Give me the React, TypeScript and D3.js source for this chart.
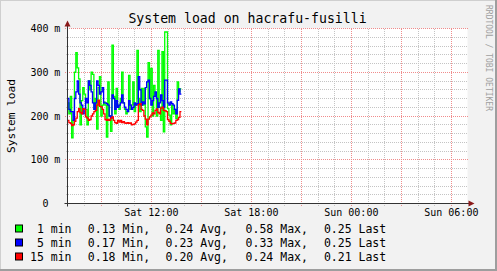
import React from "react";
import * as d3 from "d3";

// ---- data (values in milli-load, 5 minute steps starting Sat 07:00) ----
const seriesNames = ["1 min", "5 min", "15 min"];
const seriesColors = ["#00FF00", "#0000FF", "#FF0000"];

const load1 = [
  230, 205, 245, 150, 190, 300, 345, 310, 285, 180, 235, 265, 250, 215, 180, 280, 260, 300, 295, 215,
  240, 170, 265, 290, 200, 225, 232, 225, 152, 278, 200, 165, 362, 245, 205, 263, 225, 215, 240, 300,
  230, 215, 205, 210, 293, 215, 225, 278, 210, 225, 350, 240, 210, 263, 225, 263, 175, 152, 322, 240,
  309, 200, 270, 245, 200, 350, 220, 190, 347, 164, 392, 392, 217, 202, 180, 225, 205, 215, 194, 278,
  255, 262,
];
const load5 = [
  240, 215, 210, 210, 190, 240, 255, 280, 250, 230, 225, 205, 215, 240, 230, 280, 270, 255, 230, 215,
  230, 280, 270, 250, 255, 265, 230, 230, 228, 225, 200, 195, 248, 240, 215, 235, 220, 225, 230, 248,
  230, 220, 215, 210, 235, 225, 215, 220, 230, 225, 228, 290, 260, 225, 232, 228, 265, 278, 282, 240,
  225, 235, 245, 255, 240, 220, 230, 248, 235, 220, 282, 282, 230, 225, 232, 228, 225, 215, 205, 236,
  262, 250,
];
const load15 = [
  190, 185, 183, 178, 180, 188, 195, 210, 217, 208, 205, 217, 215, 198, 195, 190, 192, 200, 205, 210,
  213, 225, 236, 222, 221, 215, 205, 192, 190, 192, 190, 195, 198, 190, 185, 183, 190, 186, 190, 185,
  187, 184, 183, 185, 183, 184, 180, 181, 182, 186, 190, 226, 228, 215, 213, 200, 193, 180, 193, 198,
  202, 207, 205, 213, 216, 208, 205, 218, 220, 213, 212, 210, 192, 188, 183, 182, 183, 184, 190, 192,
  197, 210,
];

const statMin = ["0.13", "0.17", "0.18"];
const statAvg = ["0.24", "0.23", "0.20"];
const statMax = ["0.58", "0.33", "0.24"];
const statLast = ["0.25", "0.25", "0.21"];

const yMajorTicks = [0, 100, 200, 300, 400];
const yUnit = "m";

const titleText = "System load on hacrafu-fusilli";
const yAxisTitle = "System load";
const watermark = "RRDTOOL / TOBI OETIKER";

// ---- layout ----
const W = 497;
const H = 271;
const PL = 67.5;
const PR = 467.5;
const PT = 28.5;
const PB = 203.5;
const FONT = "'DejaVu Sans Mono', monospace";

const start = new Date(Date.UTC(2024, 0, 6, 7, 0));
const end = new Date(Date.UTC(2024, 0, 7, 7, 0));
const STEP_MS = 5 * 60 * 1000;

export default function App() {
  const x = d3.scaleTime().domain([start, end]).range([PL, PR]);
  const y = d3.scaleLinear().domain([0, 400]).range([PB, PT]);

  const minorX = d3.utcHour.every(1)!.range(start, end).filter((d) => +d > +start);
  const majorX = d3.utcHour.every(3)!.range(start, end).filter((d) => +d > +start);
  const labelX = d3.utcHour.every(6)!.range(start, end);
  const fmt = d3.utcFormat("%a %H:%M");
  const minorY = d3.range(20, 401, 20).filter((v) => v % 100 !== 0);

  const all = [load1, load5, load15];
  const line = d3
    .line<[Date, number]>()
    .x((d) => x(d[0]))
    .y((d) => y(d[1]))
    .curve(d3.curveStepAfter);
  const toPts = (arr: number[]): [Date, number][] => {
    const pts: [Date, number][] = arr.map((v, i) => [new Date(+start + i * STEP_MS), v]);
    pts.push([new Date(+start + arr.length * STEP_MS), arr[arr.length - 1]]);
    return pts;
  };

  return (
    <svg
      width={W}
      height={H}
      style={{ position: "absolute", left: 0, top: 0 }}
      fontFamily={FONT}
    >
      <rect x={0} y={0} width={W} height={H} fill="#F2F2F2" />
      {/* 3D frame */}
      <line x1={0} y1={0.5} x2={W} y2={0.5} stroke="#CFCFCF" strokeWidth={1} />
      <line x1={0.5} y1={0} x2={0.5} y2={H} stroke="#CFCFCF" strokeWidth={1} />
      <line x1={0} y1={H - 1} x2={W} y2={H - 1} stroke="#9E9E9E" strokeWidth={2} />
      <line x1={W - 1} y1={0} x2={W - 1} y2={H} stroke="#9E9E9E" strokeWidth={2} />

      {/* plot area */}
      <rect x={PL} y={PT} width={PR - PL} height={PB - PT} fill="#FFFFFF" />

      {/* minor grid */}
      <g stroke="#C4C4C4" strokeWidth={1} strokeDasharray="1,1" shapeRendering="crispEdges">
        {minorX.map((d, i) => (
          <line key={"mx" + i} x1={Math.round(x(d)) + 0.5} x2={Math.round(x(d)) + 0.5} y1={PT} y2={PB + 2} />
        ))}
        {minorY.map((v) => (
          <line key={"my" + v} x1={PL - 2} x2={PR} y1={Math.round(y(v) - 0.5) + 0.5} y2={Math.round(y(v) - 0.5) + 0.5} />
        ))}
      </g>
      {/* major grid */}
      <g stroke="#F08C8C" strokeWidth={1} strokeDasharray="1,1" shapeRendering="crispEdges">
        {majorX.map((d, i) => (
          <line key={"Mx" + i} x1={Math.round(x(d)) + 0.5} x2={Math.round(x(d)) + 0.5} y1={PT} y2={PB + 3} />
        ))}
        {yMajorTicks
          .filter((v) => v > 0)
          .map((v) => (
            <line key={"My" + v} x1={PL - 3} x2={PR} y1={Math.round(y(v) - 0.5) + 0.5} y2={Math.round(y(v) - 0.5) + 0.5} />
          ))}
      </g>

      {/* data lines */}
      {all.map((arr, k) => (
        <path
          key={"s" + k}
          d={line(toPts(arr)) || ""}
          fill="none"
          stroke={seriesColors[k]}
          strokeWidth={1.3}
        />
      ))}

      {/* axes */}
      <line x1={PL - 3} x2={PR + 3} y1={PB} y2={PB} stroke="#333333" strokeWidth={1} />
      <line x1={PL} x2={PL} y1={PB + 3} y2={PT - 3} stroke="#333333" strokeWidth={1} />
      <path d={`M${PR + 1},${PB - 3} L${PR + 7},${PB} L${PR + 1},${PB + 3} Z`} fill="#8B1A1A" />
      <path d={`M${PL - 3},${PT - 2} L${PL},${PT - 8} L${PL + 3},${PT - 2} Z`} fill="#8B1A1A" />

      {/* y tick labels */}
      <g fontSize={10} fill="#000">
        {yMajorTicks.map((v) => (
          <g key={"yl" + v}>
            <text x={48.5} y={y(v) + 3.5} textAnchor="end">
              {v}
            </text>
            {v !== 0 && (
              <text x={54.3} y={y(v) + 3.5}>
                {yUnit}
              </text>
            )}
          </g>
        ))}
      </g>

      {/* x tick labels */}
      <g fontSize={10} fill="#000">
        {labelX.map((d, i) => (
          <text key={"xl" + i} x={x(d) + 0.5} y={216} textAnchor="middle">
            {fmt(d)}
          </text>
        ))}
      </g>

      {/* title */}
      <text x={247.5} y={23} fontSize={13.2} textAnchor="middle" fill="#000">
        {titleText}
      </text>

      {/* y axis title */}
      <text
        transform={`translate(14.5,${(PT + PB) / 2}) rotate(-90)`}
        fontSize={11.2}
        textAnchor="middle"
        fill="#000"
      >
        {yAxisTitle}
      </text>

      {/* watermark */}
      <text
        transform={`translate(486,5) rotate(90)`}
        fontSize={8}
        fill="#A0A0A0"
        textAnchor="start"
      >
        {watermark}
      </text>

      {/* legend */}
      <g fontSize={11.5} fill="#000">
        {seriesNames.map((name, k) => {
          const cy = 228.8 + k * 14;
          return (
            <g key={"lg" + k}>
              <rect x={15.5} y={cy - 3.8} width={7} height={7} fill={seriesColors[k]} stroke="#000" strokeWidth={1} />
              <text x={71.5} y={cy + 4} textAnchor="end">
                {name}
              </text>
              <text x={87.8} y={cy + 4}>{`${statMin[k]} Min,`}</text>
              <text x={165.6} y={cy + 4}>{`${statAvg[k]} Avg,`}</text>
              <text x={245.6} y={cy + 4}>{`${statMax[k]} Max,`}</text>
              <text x={323.9} y={cy + 4}>{`${statLast[k]} Last`}</text>
            </g>
          );
        })}
      </g>
    </svg>
  );
}
